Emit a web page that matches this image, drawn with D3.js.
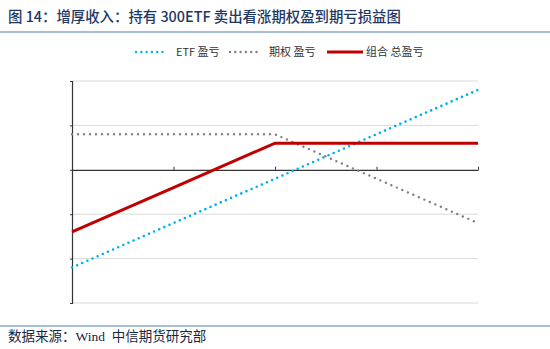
<!DOCTYPE html>
<html>
<head>
<meta charset="utf-8">
<script src="https://cdn.jsdelivr.net/npm/d3@7"></script>
<style>
  body { margin: 0; background: #fff; }
  svg { display: block; }
</style>
</head>
<body>
<svg id="chart" width="550" height="349"></svg>
<script>
// ---- data ----
const xValues = [0, 1, 2, 3, 4];
const etfPnl = [-2.2, -1.2, -0.2, 0.8, 1.8];
const optionPnl = [0.8, 0.8, 0.8, -0.2, -1.2];
const totalPnl = [-1.4, -0.4, 0.6, 0.6, 0.6];
const yTicks = [-3, -2, -1, 0, 1, 2];
const xTicks = [0, 1, 2, 3, 4];
const seriesNames = ["ETF 盈亏", "期权 盈亏", "组合 总盈亏"];
const titleText = "图 14：增厚收入：持有 300ETF 卖出看涨期权盈到期亏损益图";
const sourceText = "数据来源：Wind  中信期货研究部";

const svg = d3.select("#chart");
const W = 550, H = 349;
const plot = { left: 72, right: 478, top: 81, bottom: 303 };

// title
svg.append("text")
  .attr("x", 8).attr("y", 22)
  .attr("font-family", "'Noto Sans CJK SC', 'Liberation Sans', sans-serif")
  .attr("font-size", 14.4)
  .attr("font-weight", 500)
  .attr("fill", "#1f3763")
  .text(titleText);
svg.append("line")
  .attr("x1", 0).attr("x2", W).attr("y1", 32).attr("y2", 32)
  .attr("stroke", "#a8bfd8").attr("stroke-width", 2);

const x = d3.scaleLinear().domain([0, 4]).range([plot.left, plot.right]);
const y = d3.scaleLinear().domain([-3, 2]).range([plot.bottom, plot.top]);

// gridlines
svg.append("g").selectAll("line")
  .data(yTicks.filter(d => d !== 0))
  .join("line")
  .attr("x1", plot.left).attr("x2", plot.right)
  .attr("y1", d => y(d)).attr("y2", d => y(d))
  .attr("stroke", "#d9d9d9").attr("stroke-width", 1);

// y axis
const yAxis = d3.axisLeft(y).tickValues(yTicks).tickSize(2).tickFormat("");
const gy = svg.append("g").attr("transform", `translate(${plot.left},0)`).call(yAxis);
gy.select(".domain").attr("stroke", "#333").attr("stroke-width", 1.2);
gy.selectAll(".tick line").attr("stroke", "#333");

// x axis at zero
const xAxis = d3.axisTop(x).tickValues(xTicks).tickSize(3).tickSizeOuter(0).tickFormat("");
const gx = svg.append("g").attr("transform", `translate(0,${y(0)})`).call(xAxis);
gx.select(".domain").attr("stroke", "#333").attr("stroke-width", 1.2);
gx.selectAll(".tick line").attr("stroke", "#333");

const line = d3.line().x((d, i) => x(xValues[i])).y(d => y(d));

const series = [
  { name: seriesNames[0], values: etfPnl, color: "#00b0f0", dash: "0,5.6", width: 2.6, cap: "round" },
  { name: seriesNames[1], values: optionPnl, color: "#7f7f7f", dash: "0,6", width: 2.4, cap: "round" },
  { name: seriesNames[2], values: totalPnl, color: "#c00000", dash: null, width: 3, cap: "butt" }
];

series.forEach(s => {
  svg.append("path")
    .datum(s.values)
    .attr("d", line)
    .attr("fill", "none")
    .attr("stroke", s.color)
    .attr("stroke-width", s.width)
    .attr("stroke-linecap", s.cap)
    .attr("stroke-dasharray", s.dash);
});

// legend
const legendPos = [
  { x1: 136, x2: 164, tx: 176 },
  { x1: 230, x2: 258, tx: 269 },
  { x1: 327, x2: 363, tx: 366 }
];
const lg = svg.append("g");
series.forEach((s, i) => {
  const p = legendPos[i];
  lg.append("line")
    .attr("x1", p.x1).attr("x2", p.x2).attr("y1", 52).attr("y2", 52)
    .attr("stroke", s.color).attr("stroke-width", s.dash ? 2.4 : 3.2)
    .attr("stroke-linecap", s.cap)
    .attr("stroke-dasharray", s.dash ? "0,5.3" : null);
  lg.append("text")
    .attr("x", p.tx).attr("y", 56)
    .attr("font-family", "'Noto Sans CJK SC', 'Liberation Sans', sans-serif")
    .attr("font-size", 11)
    .attr("fill", "#333")
    .text(s.name);
});

// footer
svg.append("line")
  .attr("x1", 0).attr("x2", W).attr("y1", 326).attr("y2", 326)
  .attr("stroke", "#a8bfd8").attr("stroke-width", 2);
svg.append("text")
  .attr("x", 8).attr("y", 341)
  .attr("font-family", "'Liberation Serif', 'Noto Sans CJK SC', serif")
  .attr("font-size", 13.5)
  .attr("fill", "#17273f")
  .attr("xml:space", "preserve")
  .style("white-space", "pre")
  .text(sourceText);
</script>
</body>
</html>
